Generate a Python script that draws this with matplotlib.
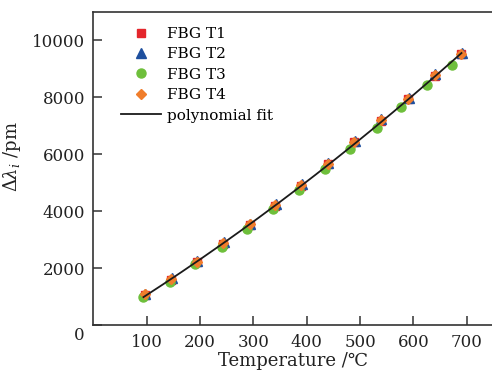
import numpy as np
import matplotlib
matplotlib.use("Agg")
import matplotlib.pyplot as plt
from matplotlib.transforms import ScaledTranslation

# Data
t4_x = [96, 146, 194, 244, 293, 341, 390, 439, 489, 539, 590, 640, 690]
t4_y = [1090, 1626, 2232, 2877, 3542, 4219, 4919, 5679, 6437, 7197, 7957, 8773, 9534]
t3_x = [94, 143, 191, 241, 288, 337, 386, 434, 482, 531, 577, 626, 673]
t3_y = [1005, 1531, 2151, 2758, 3390, 4078, 4744, 5480, 6205, 6927, 7663, 8423, 9148]
t2_x = [97, 147, 195, 245, 294, 342, 391, 440, 490, 540, 591, 641, 691]
t2_y = [1110, 1660, 2262, 2910, 3575, 4255, 4955, 5715, 6475, 7235, 7995, 8810, 9575]
t1_x = [96, 146, 194, 244, 293, 341, 390, 439, 489, 539, 590, 640, 690]
t1_y = [1075, 1610, 2215, 2860, 3525, 4200, 4900, 5660, 6420, 7180, 7940, 8755, 9515]

xticks = [100, 200, 300, 400, 500, 600, 700]
yticks = [0, 2000, 4000, 6000, 8000, 10000]

plt.rcParams['font.family'] = ['DejaVu Serif', 'DejaVu Sans']
plt.rcParams['mathtext.fontset'] = 'dejavuserif'

fig = plt.figure(figsize=(4.92, 3.72), dpi=100)
L, R, B, T = 93.3 / 492, 493.5 / 492, 1 - 325.4 / 372, 1 - 12 / 372
ax = fig.add_axes([L, B, R - L, T - B])

ax.plot(t1_x, t1_y, ls='none', marker='s', ms=5.5, color='#e4262c', label='FBG T1')
ax.plot(t2_x, t2_y, ls='none', marker='^', ms=6.5, color='#1e4f9e', label='FBG T2')
ax.plot(t3_x, t3_y, ls='none', marker='o', ms=6.5, color='#6ebf3b', label='FBG T3')
ax.plot(t4_x, t4_y, ls='none', marker='D', ms=5.5, color='#f07d2b', label='FBG T4')

allx = np.array(t1_x + t2_x + t3_x + t4_x, dtype=float)
ally = np.array(t1_y + t2_y + t3_y + t4_y, dtype=float)
coef = np.polyfit(allx, ally, 2)
xf = np.linspace(min(t3_x), max(t4_x), 200)
ax.plot(xf, np.polyval(coef, xf), color='#1a1a1a', lw=1.3, label='polynomial fit')

ax.set_xlim(0, 750)
ax.set_ylim(0, 11000)
ax.set_xticks(xticks)
ax.set_yticks(yticks)
ax.set_xticklabels([str(v) for v in xticks])
ax.set_yticklabels([str(v) for v in yticks])

for s in ax.spines.values():
    s.set_linewidth(1.2)
    s.set_color('#333333')
ax.spines['right'].set_visible(False)

ax.tick_params(direction='in', length=6.5, width=1.1, colors='#333333',
               labelcolor='#222222', labelsize=12, pad=6,
               top=False, right=False)

fig.canvas.draw()
zero_lbl = ax.get_yticklabels()[0]
zero_lbl.set_transform(zero_lbl.get_transform() + ScaledTranslation(0, -8 / 100, fig.dpi_scale_trans))

ax.set_xlabel('Temperature /℃', fontsize=13, color='#222222', labelpad=1)
ax.set_ylabel(r'$\Delta\lambda_i$ /pm', fontsize=13, color='#222222')
ax.yaxis.set_label_coords(-0.175, 0.54)

leg = ax.legend(loc='upper left', bbox_to_anchor=(0.055, 0.972), frameon=False,
                fontsize=11, handlelength=2.6, handletextpad=0.4, labelspacing=0.42,
                borderaxespad=0)

fig.savefig('out.png', dpi=100)
